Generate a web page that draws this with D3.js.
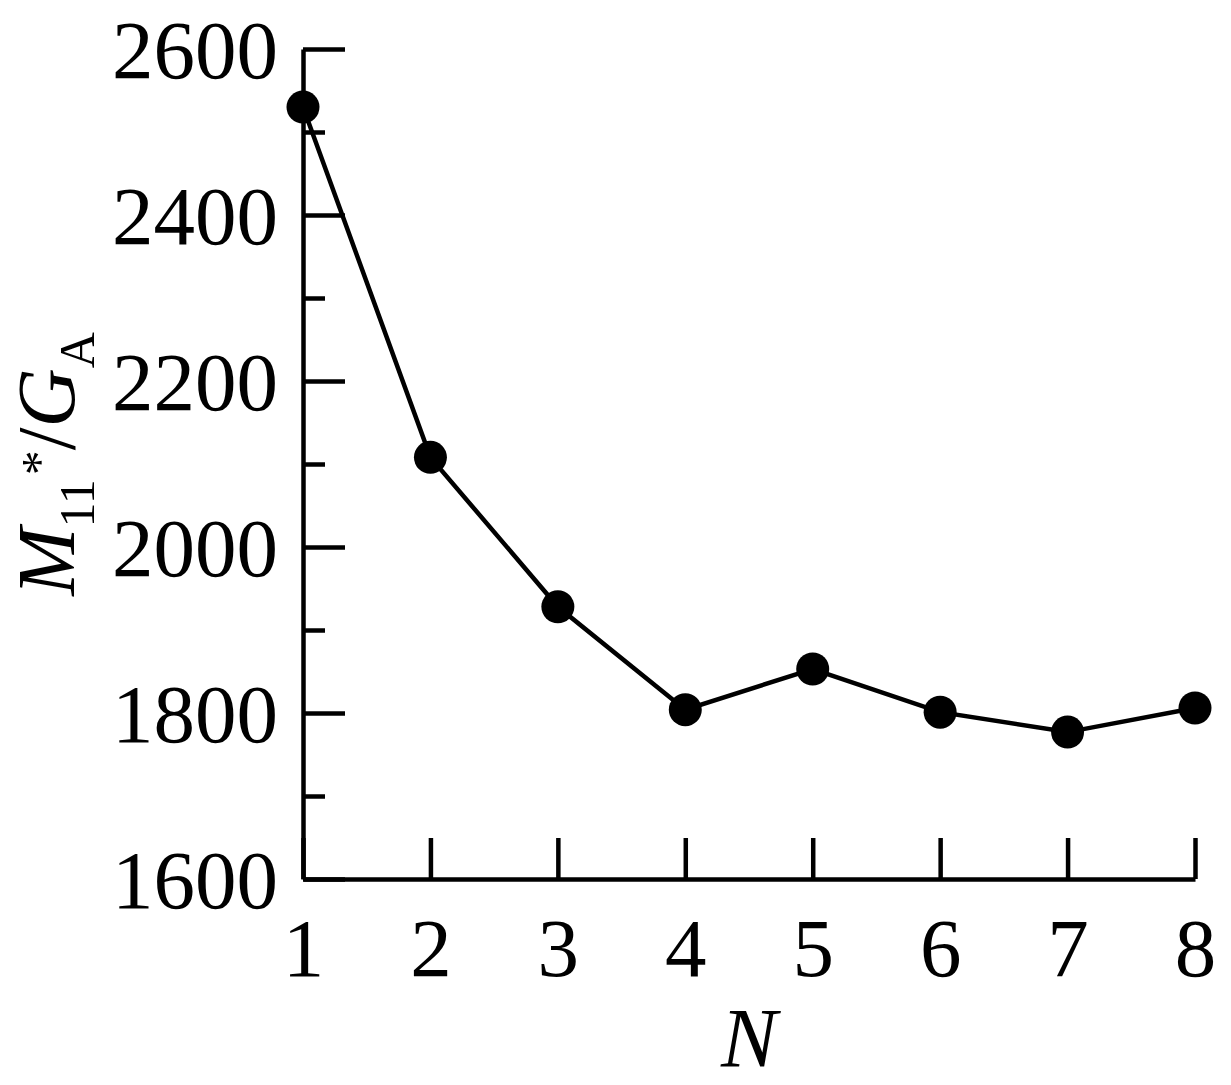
<!DOCTYPE html>
<html><head><meta charset="utf-8">
<script src="https://cdn.jsdelivr.net/npm/d3@7"></script>
<style>body{margin:0;background:#fff}svg{display:block}</style>
</head><body>
<script>
const categories = [1,2,3,4,5,6,7,8];
const values = [2530, 2108, 1928, 1804, 1853, 1801, 1777, 1806];
const yTicks = [1600,1800,2000,2200,2400,2600];
const yMinorTicks = [1700,1900,2100,2300,2500];

const W = 1231, H = 1085;
const svg = d3.select("body").append("svg").attr("width", W).attr("height", H);
const font = "'Liberation Serif','Times New Roman',serif";

const x = d3.scaleLinear().domain([1,8]).range([303,1195]);
const y = d3.scaleLinear().domain([1600,2600]).range([879,49]);

// minor y ticks
const gMinor = svg.append("g").attr("transform","translate(303,0)")
  .call(d3.axisLeft(y).tickValues(yMinorTicks).tickSizeInner(-22).tickSizeOuter(0).tickFormat(""));
gMinor.select(".domain").remove();
gMinor.selectAll("line").attr("stroke","#000").attr("stroke-width",4.5);

// major y axis
const gy = svg.append("g").attr("transform","translate(303,0)")
  .call(d3.axisLeft(y).tickValues(yTicks).tickSizeInner(-42).tickSizeOuter(0).tickPadding(25).tickFormat(d3.format("d")));
gy.select(".domain").attr("stroke","#000").attr("stroke-width",4.5);
gy.selectAll("line").attr("stroke","#000").attr("stroke-width",4.5);
gy.selectAll("text").attr("font-family",font).attr("font-size",83).attr("fill","#000").attr("dy","0.34em");

// x axis
const gx = svg.append("g").attr("transform","translate(0,879)")
  .call(d3.axisBottom(x).tickValues(categories).tickSizeInner(-41).tickSizeOuter(0).tickPadding(38).tickFormat(d3.format("d")));
gx.select(".domain").attr("stroke","#000").attr("stroke-width",4.5);
gx.selectAll("line").attr("stroke","#000").attr("stroke-width",4.5);
gx.selectAll("text").attr("font-family",font).attr("font-size",83).attr("fill","#000");

// line
const line = d3.line().x((d,i)=>x(categories[i])).y(d=>y(d));
svg.append("path").datum(values).attr("d",line).attr("fill","none").attr("stroke","#000").attr("stroke-width",4.5);

svg.selectAll("circle.pt").data(values).enter().append("circle").attr("class","pt")
  .attr("cx",(d,i)=>x(categories[i])).attr("cy",d=>y(d)).attr("r",16.5).attr("fill","#000");

// x title
svg.append("text").attr("x",749).attr("y",1067).attr("text-anchor","middle")
  .attr("font-family",font).attr("font-size",84).attr("font-style","italic").text("N");

// y title
const t = svg.append("text").attr("transform","translate(74,464) rotate(-90)")
  .attr("text-anchor","middle").attr("font-family",font).attr("font-size",82).attr("fill","#000");
t.append("tspan").attr("font-style","italic").text("M");
t.append("tspan").attr("font-size",50).attr("dy",20).text("11");
t.append("tspan").attr("font-size",50).attr("dy",-38).attr("dx",4).text("*");
t.append("tspan").attr("dy",18).text("/");
t.append("tspan").attr("font-style","italic").text("G");
t.append("tspan").attr("font-size",50).attr("dy",20).text("A");
</script>
</body></html>
